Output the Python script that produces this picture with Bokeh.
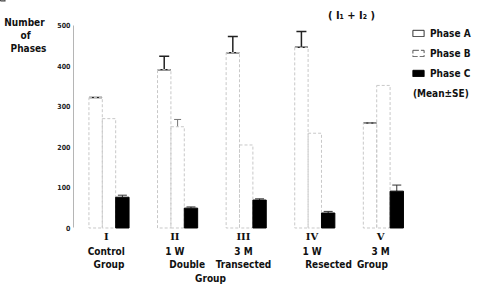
import numpy as np
from bokeh.plotting import figure
from bokeh.models import (ColumnDataSource, Range1d, FixedTicker, Whisker, TeeHead,
                          Legend, LegendItem)
from bokeh.core.properties import value
from bokeh.embed import file_html
from bokeh.resources import INLINE

# ---- data ----
groups = ["I", "II", "III", "IV", "V"]
line2 = ["Control", "1 W", "3 M", "1 W", "3 M"]
line3 = ["Group", "Double", "Transected", "Resected", "Group"]
phase_a = [322, 391, 433, 446, 259]
phase_a_se = [np.nan, 33, 40, 39, np.nan]
phase_b = [270, 250, 205, 234, 352]
phase_b_se = [np.nan, 18, np.nan, np.nan, np.nan]
phase_c = [76, 49, 69, 37, 91]
phase_c_se = [5, 3, 3, 4, 15]
y_ticks = [0, 100, 200, 300, 400, 500]

FONT = "DejaVu Sans Condensed"
idx = np.arange(len(groups), dtype=float)
bw = 0.195
off = 0.195
axis_x = -0.5175   # where the value axis stands

src = ColumnDataSource(dict(
    xa=idx - off, xb=idx, xc=idx + off,
    a=phase_a, b=phase_b, c=phase_c,
    a_hi=np.array(phase_a) + np.array(phase_a_se),
    b_hi=np.array(phase_b) + np.array(phase_b_se),
    c_hi=np.array(phase_c) + np.array(phase_c_se),
))

p = figure(width=479, height=284, output_backend="svg", toolbar_location=None,
           x_range=Range1d(-1.5816, 5.401), y_range=Range1d(-139.5, 561.7),
           x_axis_location=None, min_border_left=0, min_border_right=0,
           min_border_top=0, min_border_bottom=0)
p.outline_line_color = None
p.grid.visible = False
p.background_fill_color = "white"

ax = p.yaxis[0]
ax.fixed_location = axis_x
ax.ticker = FixedTicker(ticks=y_ticks)
ax.bounds = (0, 500)
ax.axis_line_color = "#b5b5b5"
ax.axis_line_width = 1
ax.major_tick_line_color = None
ax.major_tick_out = 0
ax.major_tick_in = 0
ax.minor_tick_line_color = None
ax.minor_tick_out = 0
ax.major_label_standoff = 3
ax.major_label_text_font = FONT
ax.major_label_text_font_style = "bold"
ax.major_label_text_font_size = "7px"
ax.major_label_text_color = "#222222"

faint = dict(fill_color=None, line_color="#c8c8c8", line_width=1, line_dash="3 2")
rA = p.vbar(x="xa", top="a", bottom=0, width=bw, source=src, **faint)
rB = p.vbar(x="xb", top="b", bottom=0, width=bw, source=src, **faint)
rC = p.vbar(x="xc", top="c", bottom=0, width=bw, source=src,
            fill_color="black", line_color="black")

p.add_layout(Whisker(source=src, base="xa", lower="a", upper="a_hi",
                     line_color="#222222", line_width=1.5,
                     upper_head=TeeHead(size=10, line_color="#222222", line_width=1.5),
                     lower_head=TeeHead(size=13, line_color="#222222", line_width=1.5)))
p.add_layout(Whisker(source=src, base="xb", lower="b", upper="b_hi",
                     line_color="#777777", line_width=1,
                     upper_head=TeeHead(size=7, line_color="#777777"),
                     lower_head=None))
p.add_layout(Whisker(source=src, base="xc", lower="c", upper="c_hi",
                     line_color="#333333", line_width=1,
                     upper_head=TeeHead(size=9, line_color="#333333"),
                     lower_head=None))

# ---- category labels below the bars ----
tk = dict(text_font=value(FONT), text_font_style="bold", text_color="#111111",
          text_align="center", text_baseline="middle")
lab = ColumnDataSource(dict(x=idx - 0.04, y1=[-22.2] * 5, y2=[-58] * 5,
                            r=groups, t=line2))
p.text(x="x", y="y1", text="r", source=lab, text_font_size="10px",
       text_font=value("DejaVu Serif"), text_font_style="bold", text_color="#111111",
       text_align="center", text_baseline="middle")
p.text(x="x", y="y2", text="t", source=lab, text_font_size="10px", **tk)
line3_x = [0.0, 1.14, 1.96, 3.2, 3.84]
p.text(x=line3_x, y=[-90] * 5, text=line3, text_font_size="10px", **tk)
p.text(x=[1.48], y=[-124.5], text=["Group"], text_font_size="10px", **tk)

# ---- titles / notes ----
p.text(x=[3.535], y=[524.7], text=["( I\u2081 + I\u2082 )"], text_font_size="11px", **tk)
p.text(x=[4.43], y=[332], text=["(Mean\u00b1SE)"], text_font_size="10px",
       text_font=value(FONT), text_font_style="bold", text_color="#111111",
       text_align="left", text_baseline="middle")
p.text(x=[-1.232, -1.217, -1.173], y=[507.4, 475.3, 443.2],
       text=["Number", "of", "Phases"], text_font_size="10px", **tk)

# ---- legend (swatch renderers hold no visible data) ----
dummy = ColumnDataSource(dict(x=[-50.0], y=[5000.0]))
lA = p.vbar(x="x", top="y", bottom="y", width=0.1, source=dummy, fill_color=None,
            line_color="#333333", line_width=1)
lB = p.vbar(x="x", top="y", bottom="y", width=0.1, source=dummy, fill_color=None,
            line_color="#555555", line_width=1, line_dash="6 2")
lC = p.vbar(x="x", top="y", bottom="y", width=0.1, source=dummy, fill_color="black",
            line_color="black")
leg = Legend(items=[LegendItem(label="Phase A", renderers=[lA]),
                    LegendItem(label="Phase B", renderers=[lB]),
                    LegendItem(label="Phase C", renderers=[lC])],
             location=(411, 201), padding=0, spacing=0, margin=0,
             glyph_width=14, glyph_height=8, label_height=20, label_standoff=5,
             label_text_font=FONT, label_text_font_style="bold",
             label_text_font_size="10px", label_text_color="#111111",
             border_line_color=None, background_fill_alpha=0)
p.add_layout(leg)

open("out.html", "w").write(file_html(p, INLINE))
